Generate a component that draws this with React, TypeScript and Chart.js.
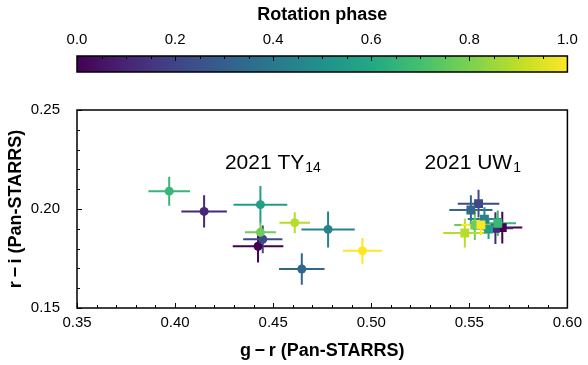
import React, { useEffect, useRef } from "react";
import { Chart, registerables } from "chart.js";
Chart.register(...registerables);

// Rotation phases (shared by both objects)
const phases = [0, 0.111, 0.222, 0.333, 0.444, 0.556, 0.667, 0.778, 0.889, 1.0];

// 2021 TY14 (circles)
const ty14GR = [0.4423, 0.4148, 0.4447, 0.4646, 0.478, 0.4435, 0.397, 0.4435, 0.461, 0.4955];
const ty14RI = [0.1812, 0.1988, 0.1847, 0.1697, 0.1897, 0.2022, 0.209, 0.1882, 0.1931, 0.1789];
const ty14GRErr = [0.0129, 0.0116, 0.01, 0.0116, 0.0136, 0.0137, 0.0106, 0.0079, 0.0078, 0.0099];
const ty14RIErr = [0.0082, 0.0082, 0.007, 0.008, 0.0091, 0.0094, 0.0073, 0.005, 0.0053, 0.0065];

// 2021 UW1 (squares)
const uw1GR = [0.5668, 0.5633, 0.5547, 0.5508, 0.5577, 0.5598, 0.5645, 0.5528, 0.5477, 0.5559];
const uw1RI = [0.1906, 0.1903, 0.2027, 0.1995, 0.1949, 0.1899, 0.1928, 0.1919, 0.1879, 0.1919];
const uw1GRErr = [0.0102, 0.009, 0.0106, 0.011, 0.0085, 0.008, 0.0093, 0.0105, 0.011, 0.01];
const uw1RIErr = [0.008, 0.008, 0.007, 0.0075, 0.006, 0.005, 0.0064, 0.0075, 0.0073, 0.005];

// Axis ticks
const xTicks = [0.35, 0.4, 0.45, 0.5, 0.55, 0.6];
const yTicks = [0.15, 0.2, 0.25];
const cbTicks = [0, 0.2, 0.4, 0.6, 0.8, 1.0];

const FONT = "'Liberation Sans', Arial, Helvetica, sans-serif";

const VIRIDIS = ["#440154", "#482475", "#414487", "#355f8d", "#2a788e", "#21918c", "#22a884", "#44bf70", "#7ad151", "#bddf26", "#fde725"];

function hexToRgb(h: string) {
  return [parseInt(h.slice(1, 3), 16), parseInt(h.slice(3, 5), 16), parseInt(h.slice(5, 7), 16)];
}
function viridis(t: number) {
  const v = Math.max(0, Math.min(1, t)) * 10;
  const i = Math.min(9, Math.floor(v));
  const f = v - i;
  const a = hexToRgb(VIRIDIS[i]);
  const b = hexToRgb(VIRIDIS[i + 1]);
  const c = a.map((x, k) => Math.round(x + (b[k] - x) * f));
  return `rgb(${c[0]},${c[1]},${c[2]})`;
}

const errBars = [
  { xe: ty14GRErr, ye: ty14RIErr },
  { xe: uw1GRErr, ye: uw1RIErr },
];

const errorBarPlugin = {
  id: "errorBars",
  beforeDatasetDraw(chart: any, args: any) {
    const idx = args.index;
    const eb = errBars[idx];
    if (!eb) return;
    const ctx = chart.ctx;
    const xs = chart.scales.x;
    const ys = chart.scales.y;
    const data = chart.data.datasets[idx].data as any[];
    ctx.save();
    ctx.lineWidth = 2;
    data.forEach((p, i) => {
      ctx.strokeStyle = viridis(phases[i]);
      const px = xs.getPixelForValue(p.x);
      const py = ys.getPixelForValue(p.y);
      ctx.beginPath();
      ctx.moveTo(xs.getPixelForValue(p.x - eb.xe[i]), py);
      ctx.lineTo(xs.getPixelForValue(p.x + eb.xe[i]), py);
      ctx.moveTo(px, ys.getPixelForValue(p.y - eb.ye[i]));
      ctx.lineTo(px, ys.getPixelForValue(p.y + eb.ye[i]));
      ctx.stroke();
    });
    ctx.restore();
  },
};

const decorPlugin = {
  id: "decor",
  afterDraw(chart: any) {
    const ctx = chart.ctx;
    const a = chart.chartArea;
    const xs = chart.scales.x;
    const ys = chart.scales.y;
    ctx.save();
    // frame
    ctx.strokeStyle = "#000";
    ctx.lineWidth = 1.5;
    ctx.strokeRect(a.left, a.top, a.right - a.left, a.bottom - a.top);
    // ticks
    ctx.lineWidth = 1;
    ctx.beginPath();
    for (let k = 0; k <= 25; k++) {
      const v = 0.35 + k * 0.01;
      const len = k % 5 === 0 ? 5 : 3;
      const px = Math.round(xs.getPixelForValue(v)) + 0.5;
      ctx.moveTo(px, a.bottom);
      ctx.lineTo(px, a.bottom - len);
    }
    for (let k = 0; k <= 10; k++) {
      const v = 0.15 + k * 0.01;
      const len = k % 5 === 0 ? 5 : 3;
      const py = Math.round(ys.getPixelForValue(v)) + 0.5;
      ctx.moveTo(a.left, py);
      ctx.lineTo(a.left + len, py);
    }
    ctx.stroke();

    // axis titles
    ctx.fillStyle = "#000";
    ctx.font = `bold 18px ${FONT}`;
    ctx.textAlign = "center";
    ctx.textBaseline = "middle";
    ctx.fillText("g\u2009\u2212\u2009r (Pan-STARRS)", (a.left + a.right) / 2, 351);
    ctx.save();
    ctx.translate(16, (a.top + a.bottom) / 2);
    ctx.rotate(-Math.PI / 2);
    ctx.fillText("r\u2009\u2212\u2009i (Pan-STARRS)", 0, 0);
    ctx.restore();

    // colorbar
    const cbL = a.left, cbR = a.right, cbT = 56, cbB = 72;
    const g = ctx.createLinearGradient(cbL, 0, cbR, 0);
    VIRIDIS.forEach((c, i) => g.addColorStop(i / 10, c));
    ctx.fillStyle = g;
    ctx.fillRect(cbL, cbT, cbR - cbL, cbB - cbT);
    ctx.strokeStyle = "#000";
    ctx.lineWidth = 1.5;
    ctx.strokeRect(cbL, cbT, cbR - cbL, cbB - cbT);
    ctx.lineWidth = 1;
    ctx.beginPath();
    for (let k = 0; k <= 20; k++) {
      const v = k * 0.05;
      const len = k % 4 === 0 ? 5 : 3;
      const px = Math.round(cbL + v * (cbR - cbL)) + 0.5;
      ctx.moveTo(px, cbT);
      ctx.lineTo(px, cbT + len);
    }
    ctx.stroke();
    ctx.fillStyle = "#000";
    ctx.font = `15px ${FONT}`;
    ctx.textAlign = "center";
    ctx.textBaseline = "middle";
    cbTicks.forEach((v) => {
      ctx.fillText(v.toFixed(1), cbL + v * (cbR - cbL), 40);
    });
    ctx.font = `bold 18px ${FONT}`;
    ctx.fillText("Rotation phase", (cbL + cbR) / 2, 15);

    // annotations
    ctx.textAlign = "left";
    ctx.textBaseline = "alphabetic";
    const drawLabel = (main: string, sub: string, xv: number, yv: number) => {
      const px = xs.getPixelForValue(xv);
      const py = ys.getPixelForValue(yv);
      ctx.font = `21px ${FONT}`;
      ctx.fillText(main, px, py);
      const w = ctx.measureText(main).width;
      ctx.font = `14px ${FONT}`;
      ctx.fillText(sub, px + w + 1, py + 3);
    };
    drawLabel("2021 TY", "14", 0.4254, 0.2203);
    drawLabel("2021 UW", "1", 0.5272, 0.2203);
    ctx.restore();
  },
};

export default function App() {
  const ref = useRef<HTMLCanvasElement>(null);
  useEffect(() => {
    if (!ref.current) return;
    const chart = new Chart(ref.current, {
      type: "scatter",
      data: {
        datasets: [
          {
            label: "2021 TY14",
            data: ty14GR.map((x, i) => ({ x, y: ty14RI[i] })),
            pointStyle: "circle",
            pointRadius: 4.5,
            pointHoverRadius: 4.5,
            pointBorderWidth: 0,
            pointBackgroundColor: phases.map(viridis),
            pointBorderColor: phases.map(viridis),
          },
          {
            label: "2021 UW1",
            data: uw1GR.map((x, i) => ({ x, y: uw1RI[i] })),
            pointStyle: "rect",
            pointRadius: 6.3,
            pointHoverRadius: 6.3,
            pointBorderWidth: 0,
            pointBackgroundColor: phases.map(viridis),
            pointBorderColor: phases.map(viridis),
          },
        ],
      },
      options: {
        animation: false,
        responsive: false,
        maintainAspectRatio: false,
        devicePixelRatio: 1,
        layout: { padding: { left: 0, top: 110, right: 20, bottom: 0 } },
        plugins: { legend: { display: false }, tooltip: { enabled: false } },
        scales: {
          x: {
            type: "linear",
            min: 0.35,
            max: 0.6,
            afterBuildTicks: (s: any) => {
              s.ticks = xTicks.map((v) => ({ value: v }));
            },
            afterFit: (s: any) => {
              s.height = 57;
            },
            ticks: {
              callback: (v: any) => Number(v).toFixed(2),
              font: { family: FONT, size: 15 },
              color: "#000",
              padding: 6,
              maxRotation: 0,
              autoSkip: false,
            },
            grid: { display: false, drawTicks: false },
            border: { display: false },
          },
          y: {
            type: "linear",
            min: 0.15,
            max: 0.25,
            afterBuildTicks: (s: any) => {
              s.ticks = yTicks.map((v) => ({ value: v }));
            },
            afterFit: (s: any) => {
              s.width = 77;
            },
            ticks: {
              callback: (v: any) => Number(v).toFixed(2),
              font: { family: FONT, size: 15 },
              color: "#000",
              padding: 17,
              autoSkip: false,
            },
            grid: { display: false, drawTicks: false },
            border: { display: false },
          },
        },
      },
      plugins: [errorBarPlugin, decorPlugin],
    });
    return () => chart.destroy();
  }, []);
  return (
    <div style={{ position: "absolute", left: 0, top: 0, width: 588, height: 365, background: "#fff" }}>
      <canvas ref={ref} width={588} height={365} style={{ width: 588, height: 365 }} />
    </div>
  );
}
